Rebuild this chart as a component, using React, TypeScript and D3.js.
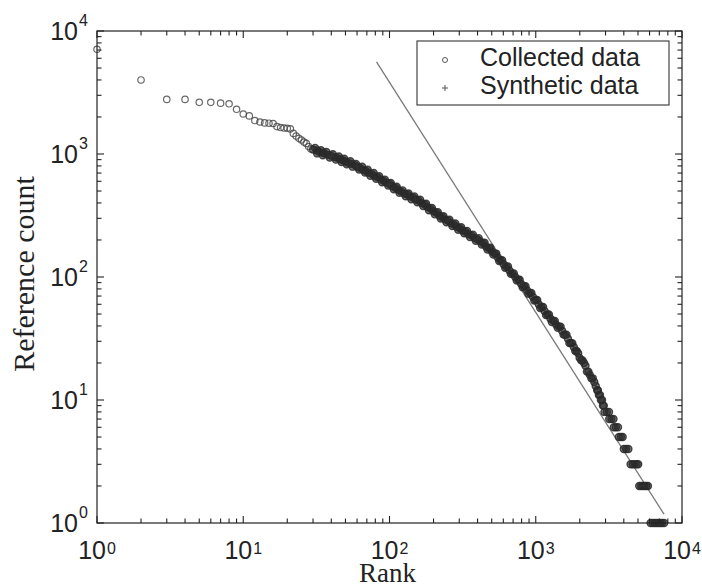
import React, { useEffect, useRef } from "react";
import * as d3 from "d3";

// collected data: rank -> reference count
const headRanks = [1, 2, 3, 4, 5, 6, 7, 8, 9, 10, 11, 12, 13, 14, 15, 16, 17, 18, 19, 20, 21, 22, 23, 24, 25, 26, 27, 28, 29];
const headCounts = [7100, 4000, 2780, 2780, 2630, 2630, 2590, 2560, 2310, 2115, 2040, 1870, 1820, 1790, 1780, 1770, 1670, 1640, 1625, 1620, 1600, 1470, 1400, 1340, 1300, 1250, 1220, 1150, 1100];

// centre of the dense band
const bodyPoints: [number, number][] = [
  [30, 1089], [32, 1067], [33, 1040], [35, 1023], [36, 1010], [38, 984], [40, 968], [42, 944],
  [44, 930], [46, 906], [48, 890], [50, 869], [52, 848], [55, 832], [58, 812], [60, 787],
  [63, 770], [66, 745], [69, 728], [72, 703], [76, 686], [79, 662], [83, 646], [87, 622],
  [91, 606], [95, 585], [100, 570], [105, 547], [110, 530], [115, 511], [120, 496], [126, 478],
  [132, 468], [138, 452], [145, 443], [151, 427], [158, 418], [166, 399], [174, 388], [182, 370],
  [191, 358], [200, 342], [209, 332], [219, 316], [229, 307], [240, 294], [251, 287], [263, 275],
  [275, 267], [288, 256], [302, 249], [316, 239], [331, 233], [347, 223], [363, 218], [380, 208],
  [398, 203], [417, 195], [437, 188], [457, 177], [479, 171], [501, 161], [525, 155], [550, 144],
  [575, 137], [603, 127], [631, 121], [661, 113], [692, 107], [724, 100], [759, 95], [794, 88],
  [832, 84], [871, 78], [912, 74], [955, 69], [1000, 65], [1047, 60], [1096, 57], [1148, 53],
  [1202, 49.5], [1259, 46], [1318, 44], [1380, 41], [1445, 39.5], [1514, 36.5], [1585, 34], [1660, 31.5],
  [1738, 29], [1820, 27], [1905, 25], [1995, 22], [2089, 21], [2188, 19], [2291, 17], [2399, 15],
  [2512, 14], [2570, 13],
];

// scatter points along the upper and lower edges of the band
const bandEdgePoints: [number, number][] = [
  [31, 1121], [32, 1011], [34, 1072], [35, 976], [37, 1037], [39, 937], [41, 994], [43, 900],
  [45, 955], [47, 862], [49, 914], [51, 824], [54, 874], [56, 789], [59, 831], [62, 747],
  [65, 787], [68, 707], [71, 744], [74, 666], [78, 701], [81, 628], [85, 659], [89, 589],
  [93, 619], [98, 554], [102, 581], [107, 517], [112, 541], [117, 483], [123, 506], [129, 454],
  [135, 478], [141, 429], [148, 452], [155, 405], [162, 425], [170, 378], [178, 394], [186, 349],
  [195, 364], [204, 323], [214, 337], [224, 299], [234, 312], [245, 279], [257, 292], [269, 260],
  [282, 272], [295, 242], [309, 254], [324, 227], [339, 237], [355, 211], [372, 221], [389, 197],
  [407, 207], [427, 184], [447, 190], [468, 167], [490, 173], [513, 152], [537, 155], [562, 135],
  [589, 137], [617, 119], [646, 122], [676, 106], [708, 107], [741, 93.6], [776, 95], [813, 82.6],
  [851, 84], [891, 73], [933, 74.3], [977, 64.3], [1023, 65], [1072, 56], [1122, 57], [1175, 49],
  [1230, 49.6], [1288, 43], [1349, 44], [1413, 38.6], [1479, 39.5], [1549, 34], [1622, 34], [1698, 29],
  [1778, 29], [1862, 25], [1950, 24], [2042, 21], [2138, 20], [2239, 17], [2344, 16], [2455, 15],
];

const tailPoints: [number, number][] = [
  [2630, 12], [2660, 12], [2700, 11], [2750, 11], [2790, 10], [2840, 10], [2880, 9], [2920, 9],
  [2950, 8], [3060, 8], [3170, 8], [3180, 7], [3290, 7], [3400, 7], [3420, 6], [3530, 6], [3650, 6],
  [3700, 5], [3820, 5], [3930, 5], [4000, 4], [4150, 4], [4300, 4], [4450, 3], [4600, 3], [4750, 3],
  [4900, 3], [5020, 3], [5100, 2], [5250, 2], [5400, 2], [5550, 2], [5700, 2], [5850, 2],
  [6100, 1], [6300, 1], [6500, 1], [6700, 1], [6900, 1], [7100, 1], [7300, 1], [7550, 1],
];

// synthetic data (plus markers), mostly hidden under the collected curve
const syntheticPoints: [number, number][] = [
  [40, 960], [60, 790], [100, 568], [150, 430], [250, 286], [400, 201], [600, 128], [800, 88],
  [1000, 65], [1300, 44], [1600, 33], [2000, 22], [2400, 15], [2800, 10], [3300, 7], [4200, 4],
  [5500, 2], [7000, 1],
];

// fitted power-law line endpoints
const fitRanks = [81.5, 7530];
const fitCounts = [5600, 1.18];

const xDomain = [1, 10000];
const yDomain = [1, 10000];
const decades = [0, 1, 2, 3, 4];
const legendLabels = ["Collected data", "Synthetic data"];

export default function App() {
  const ref = useRef<SVGSVGElement>(null);

  useEffect(() => {
    document.body.style.margin = "0";
    const svg = d3.select(ref.current);
    svg.selectAll("*").remove();

    const left = 97, right = 682, top = 31, bottom = 523;
    const x = d3.scaleLog().domain(xDomain).range([left, right]);
    const y = d3.scaleLog().domain(yDomain).range([bottom, top]);
    const sans = "Liberation Sans, Arial, sans-serif";
    const serif = "Liberation Serif, Times New Roman, serif";

    svg.append("rect").attr("width", 702).attr("height", 588).attr("fill", "#fff");

    // fit line
    const line = d3.line<number>().x((d, i) => x(fitRanks[i])).y((d, i) => y(fitCounts[i]));
    svg.append("path")
      .attr("d", line(fitRanks))
      .attr("fill", "none")
      .attr("stroke", "#7a7a7a")
      .attr("stroke-width", 1.3);

    const head: [number, number][] = headRanks.map((r, i) => [r, headCounts[i]] as [number, number]);
    const dense: [number, number][] = bodyPoints.concat(bandEdgePoints, tailPoints);

    // sparse circles at low ranks
    svg.append("g")
      .selectAll("circle")
      .data(head)
      .join("circle")
      .attr("cx", d => x(d[0]))
      .attr("cy", d => y(d[1]))
      .attr("r", 3.2)
      .attr("fill", "none")
      .attr("stroke", "#444")
      .attr("stroke-opacity", 0.8)
      .attr("stroke-width", 1.2);

    // dense part: thousands of overlapping circles merge into a dark band
    svg.append("g")
      .selectAll("circle")
      .data(dense)
      .join("circle")
      .attr("cx", d => x(d[0]))
      .attr("cy", d => y(d[1]))
      .attr("r", 3.5)
      .attr("fill", "#2a2a2a")
      .attr("fill-opacity", 0.6)
      .attr("stroke", "#2a2a2a")
      .attr("stroke-opacity", 0.85)
      .attr("stroke-width", 1.4);

    svg.append("g")
      .selectAll("path")
      .data(syntheticPoints)
      .join("path")
      .attr("d", d => `M${x(d[0]) - 2.5},${y(d[1])}h5M${x(d[0])},${y(d[1]) - 2.5}v5`)
      .attr("stroke", "#333")
      .attr("stroke-width", 1);

    // axes box
    svg.append("rect")
      .attr("x", left).attr("y", top)
      .attr("width", right - left).attr("height", bottom - top)
      .attr("fill", "none").attr("stroke", "#222").attr("stroke-width", 1.2);

    const ticks = x.ticks();
    const isMajor = (v: number) => Math.abs(Math.log10(v) - Math.round(Math.log10(v))) < 1e-9;
    const tg = svg.append("g").attr("stroke", "#222").attr("stroke-width", 1.1);
    ticks.forEach(v => {
      const len = isMajor(v) ? 7 : 4.5;
      const xv = x(v), yv = y(v);
      tg.append("line").attr("x1", xv).attr("x2", xv).attr("y1", bottom).attr("y2", bottom - len);
      tg.append("line").attr("x1", xv).attr("x2", xv).attr("y1", top).attr("y2", top + len);
      tg.append("line").attr("x1", left).attr("x2", left + len).attr("y1", yv).attr("y2", yv);
      tg.append("line").attr("x1", right).attr("x2", right - len).attr("y1", yv).attr("y2", yv);
    });

    // tick labels
    decades.forEach(k => {
      const xv = x(Math.pow(10, k));
      svg.append("text").attr("x", xv + 9).attr("y", bottom + 36)
        .attr("text-anchor", "end").attr("font-family", sans).attr("font-size", 25).attr("fill", "#222")
        .text("10");
      svg.append("text").attr("x", xv + 10).attr("y", bottom + 31)
        .attr("font-family", sans).attr("font-size", 16).attr("fill", "#222")
        .text(String(k));

      const yv = y(Math.pow(10, k));
      svg.append("text").attr("x", 78).attr("y", yv + 9)
        .attr("text-anchor", "end").attr("font-family", sans).attr("font-size", 25).attr("fill", "#222")
        .text("10");
      svg.append("text").attr("x", 79).attr("y", yv - 5)
        .attr("font-family", sans).attr("font-size", 16).attr("fill", "#222")
        .text(String(k));
    });

    // axis titles
    svg.append("text").attr("x", (left + right) / 2 - 2).attr("y", 582)
      .attr("text-anchor", "middle").attr("font-family", serif).attr("font-size", 27).attr("fill", "#222")
      .text("Rank");
    svg.append("text")
      .attr("transform", `translate(34,${274}) rotate(-90)`)
      .attr("text-anchor", "middle").attr("font-family", serif).attr("font-size", 30).attr("fill", "#222")
      .text("Reference count");

    // legend
    const lg = svg.append("g");
    lg.append("rect").attr("x", 417).attr("y", 41).attr("width", 252).attr("height", 64)
      .attr("fill", "#fff").attr("stroke", "#333").attr("stroke-width", 1.1);
    lg.append("circle").attr("cx", 445).attr("cy", 60).attr("r", 2.5)
      .attr("fill", "none").attr("stroke", "#555").attr("stroke-width", 1);
    lg.append("path").attr("d", "M442,88h6M445,85v6").attr("stroke", "#555").attr("stroke-width", 1);
    legendLabels.forEach((t, i) => {
      lg.append("text").attr("x", 480).attr("y", 66 + i * 28)
        .attr("font-family", sans).attr("font-size", 25).attr("fill", "#222")
        .text(t);
    });
  }, []);

  return <svg ref={ref} width={702} height={588} style={{ display: "block" }} />;
}
